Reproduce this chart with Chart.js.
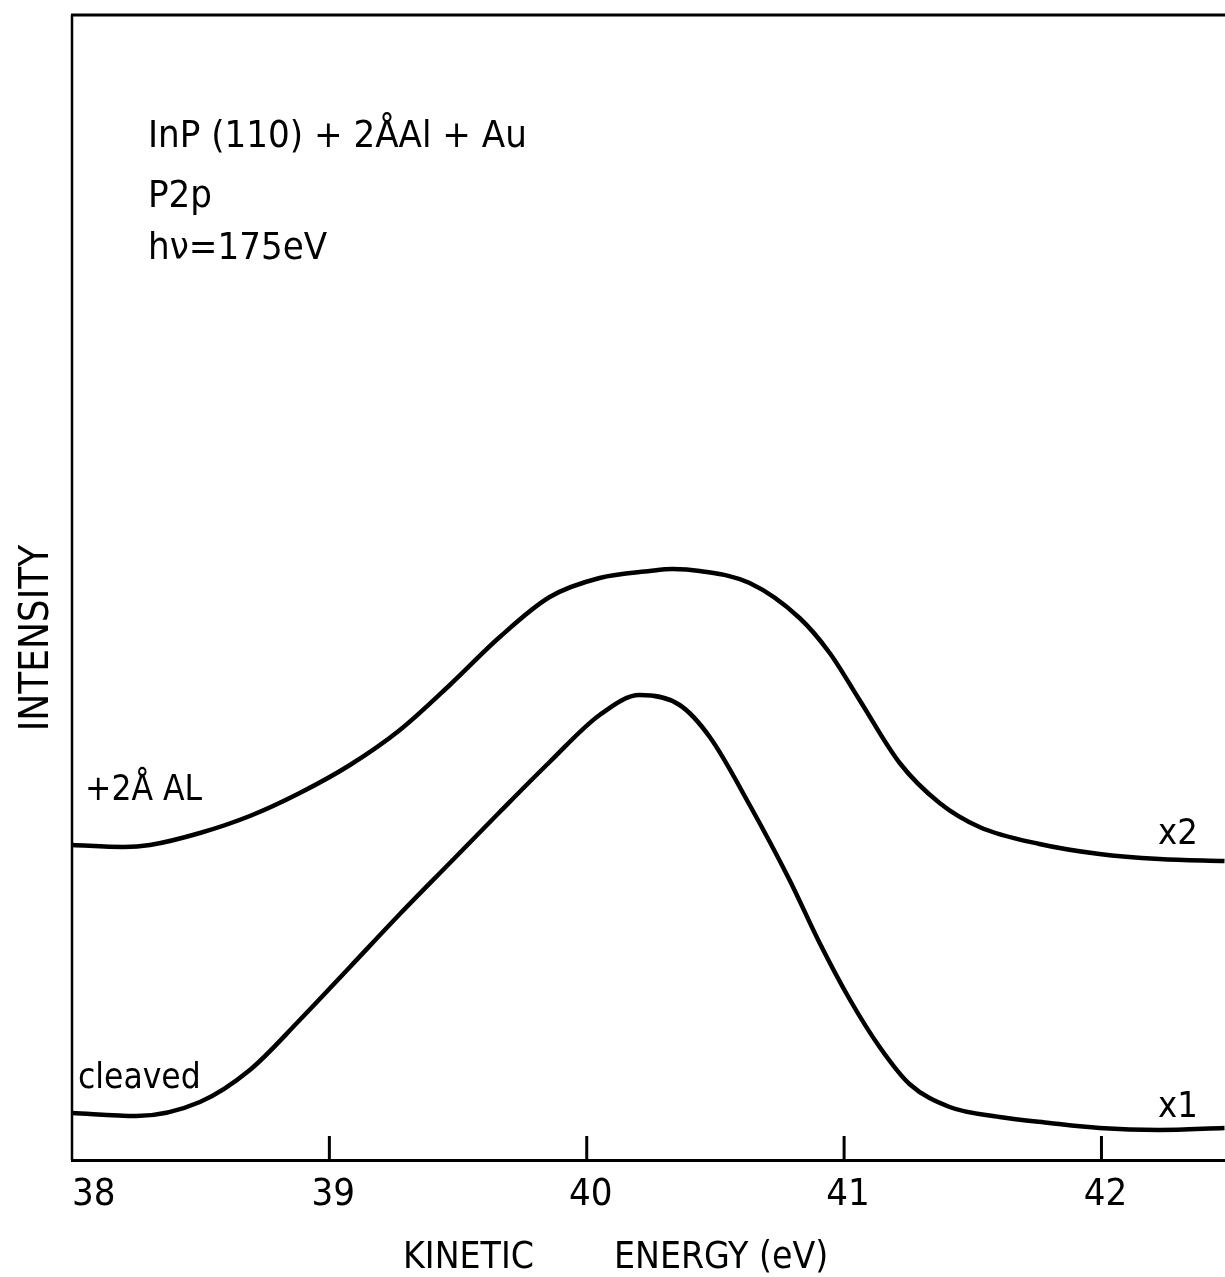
<!DOCTYPE html>
<html>
<head>
<meta charset="utf-8">
<script src="https://cdn.jsdelivr.net/npm/chart.js@4.4.0/dist/chart.umd.min.js"></script>
<style>
  html, body { margin: 0; padding: 0; background: #fff; }
  #wrap { width: 1225px; height: 1277px; }
</style>
</head>
<body>
<div id="wrap"><canvas id="c" width="1225" height="1277"></canvas></div>
<script>
// Kinetic energy (eV) and intensity (arbitrary units)
const alEnergy = [38.000, 38.200, 38.303, 38.497, 38.691, 38.885, 39.080, 39.274, 39.468, 39.662, 39.856, 40.050, 40.245, 40.334, 40.439, 40.633, 40.827, 40.944, 41.060, 41.216, 41.371, 41.526, 41.759, 41.992, 42.225, 42.478];
const alIntensity = [315, 313, 315, 327, 344, 367, 395, 430, 475, 523, 563, 582, 589, 591, 589, 577, 542, 507, 460, 397, 357, 333, 316, 306, 301, 299];

const cleavedEnergy = [38.000, 38.250, 38.497, 38.691, 38.885, 39.080, 39.274, 39.468, 39.662, 39.856, 40.050, 40.206, 40.361, 40.478, 40.633, 40.788, 40.905, 41.021, 41.138, 41.254, 41.410, 41.604, 41.798, 41.992, 42.225, 42.478];
const cleavedIntensity = [47, 44, 58, 90, 140, 193, 246, 297, 348, 398, 445, 465, 455, 423, 355, 280, 217, 161, 113, 76, 53, 43, 37, 32, 30, 32];

const xTickValues = [38, 39, 40, 41, 42];
const xTickLabels = ['38', '39', '40', '41', '42'];
const xRange = [38, 42.48];
const yRange = [0, 1145];

const FONT = "'DejaVu Sans Condensed', 'DejaVu Sans', sans-serif";

function toXY(xs, ys) { return xs.map((x, i) => ({ x: x, y: ys[i] })); }

const decor = {
  id: 'decor',
  afterDraw(chart) {
    const ctx = chart.ctx;
    const a = chart.chartArea;
    const xs = chart.scales.x;
    ctx.save();
    ctx.strokeStyle = '#000';
    ctx.lineCap = 'butt';
    // frame: top and left
    ctx.lineWidth = 3;
    ctx.beginPath();
    ctx.moveTo(a.left - 1, a.top);
    ctx.lineTo(a.right, a.top);
    ctx.stroke();
    ctx.lineWidth = 2.5;
    ctx.beginPath();
    ctx.moveTo(a.left, a.top);
    ctx.lineTo(a.left, a.bottom);
    ctx.stroke();
    // inward tick marks
    ctx.lineWidth = 3;
    xTickValues.forEach(v => {
      if (v === xRange[0]) return;
      const px = xs.getPixelForValue(v);
      ctx.beginPath();
      ctx.moveTo(px, a.bottom);
      ctx.lineTo(px, a.bottom - 24);
      ctx.stroke();
    });
    // tick labels
    ctx.fillStyle = '#000';
    ctx.font = '38px ' + FONT;
    ctx.textBaseline = 'alphabetic';
    xTickValues.forEach((v, i) => {
      const px = xs.getPixelForValue(v);
      if (i === 0) { ctx.textAlign = 'left'; ctx.fillText(xTickLabels[i], px, a.bottom + 45); }
      else { ctx.textAlign = 'center'; ctx.fillText(xTickLabels[i], px + 4, a.bottom + 45); }
    });
    // axis title
    ctx.textAlign = 'left';
    ctx.font = '37px ' + FONT;
    ctx.fillText('KINETIC', 403, 1268);
    ctx.fillText('ENERGY (eV)', 614, 1268);
    // y title
    ctx.save();
    ctx.translate(48, 638);
    ctx.rotate(-Math.PI / 2);
    ctx.textAlign = 'center';
    ctx.font = '40px ' + FONT;
    ctx.fillText('INTENSITY', 0, 0);
    ctx.restore();
    // annotations
    ctx.textAlign = 'left';
    ctx.font = '38px ' + FONT;
    ctx.fillText('InP (110) + 2ÅAl + Au', 148, 147);
    ctx.fillText('P2p', 148, 207);
    ctx.fillText('hν=175eV', 148, 259);
    ctx.font = '35px ' + FONT;
    ctx.fillText('+2Å AL', 85, 800);
    ctx.fillText('cleaved', 78, 1088);
    ctx.font = '36px ' + FONT;
    ctx.fillText('x2', 1158, 844);
    ctx.fillText('x1', 1158, 1117);
    ctx.restore();
  }
};

new Chart(document.getElementById('c'), {
  type: 'line',
  data: {
    datasets: [
      {
        label: '+2Å Al (x2)',
        data: toXY(alEnergy, alIntensity),
        borderColor: '#000',
        borderWidth: 4.5,
        pointRadius: 0,
        fill: false,
        cubicInterpolationMode: 'monotone'
      },
      {
        label: 'cleaved (x1)',
        data: toXY(cleavedEnergy, cleavedIntensity),
        borderColor: '#000',
        borderWidth: 4.5,
        pointRadius: 0,
        fill: false,
        cubicInterpolationMode: 'monotone'
      }
    ]
  },
  options: {
    responsive: false,
    animation: false,
    devicePixelRatio: 1,
    layout: { padding: { left: 72, top: 15, right: 0, bottom: 0 } },
    plugins: { legend: { display: false }, tooltip: { enabled: false } },
    scales: {
      x: {
        type: 'linear',
        min: xRange[0],
        max: xRange[1],
        ticks: { display: false },
        grid: { display: false },
        border: { display: true, color: '#000', width: 3 },
        afterFit(scale) { scale.height = 117; }
      },
      y: {
        display: false,
        min: yRange[0],
        max: yRange[1]
      }
    }
  },
  plugins: [decor]
});
</script>
</body>
</html>
